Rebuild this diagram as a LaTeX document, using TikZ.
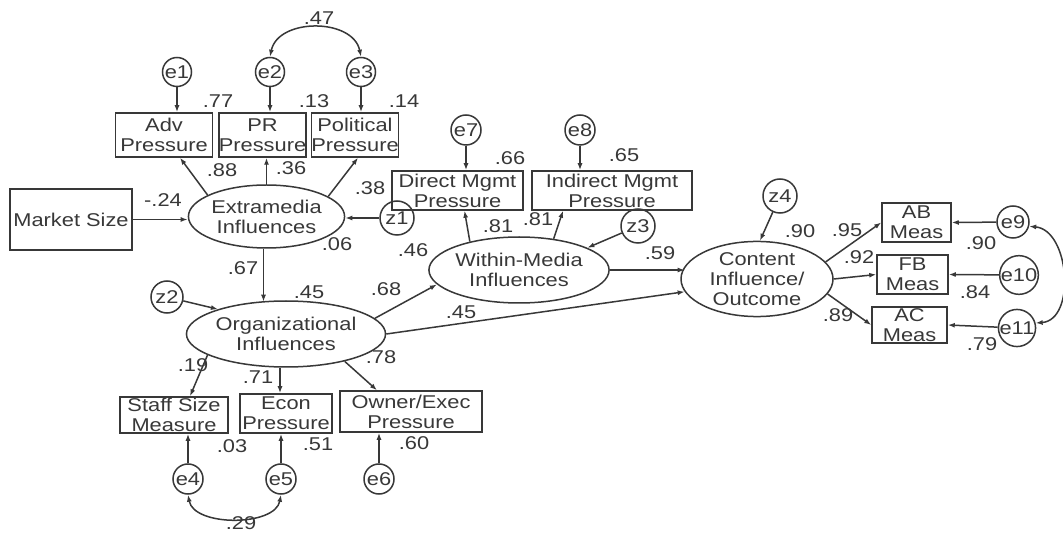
\documentclass[tikz,border=0pt]{standalone}
\usepackage{fontspec}
\setmainfont{Liberation Sans}[FakeStretch=1.18]
\usetikzlibrary{arrows.meta,shapes.geometric,calc}
\definecolor{ink}{HTML}{383838}
\begin{document}
\begin{tikzpicture}[x=1pt,y=-1pt,
  every node/.style={text=ink,font=\fontsize{18.5}{20}\selectfont,inner sep=0pt},
  box/.style={draw=ink,line width=1.5pt,rectangle,align=center},
  lat/.style={draw=ink,line width=1.5pt,ellipse,align=center},
  err/.style={draw=ink,line width=1.5pt,circle},
  lbl/.style={},
  arr/.style={draw=ink,line width=1.5pt,-{Latex[length=7pt,width=5pt]}},
  cov/.style={draw=ink,line width=1.5pt,{Latex[length=7pt,width=5pt]}-{Latex[length=7pt,width=5pt]}}]
\useasboundingbox (0,0) rectangle (1063,534);
\fill[white] (0,0) rectangle (1063,534);
% boxes
\node[box,minimum width=97pt,minimum height=44pt] (adv) at (164,135) {Adv\\Pressure};
\node[box,minimum width=87pt,minimum height=44pt] (pr) at (262.5,135) {PR\\Pressure};
\node[box,minimum width=86pt,minimum height=44pt] (pol) at (355,135) {Political\\Pressure};
\node[box,minimum width=122pt,minimum height=61pt] (market) at (71,219.5) {Market Size};
\node[box,minimum width=131pt,minimum height=39pt] (direct) at (457.5,190.5) {Direct Mgmt\\Pressure};
\node[box,minimum width=160pt,minimum height=39pt] (indirect) at (612,190.5) {Indirect Mgmt\\Pressure};
\node[box,minimum width=108pt,minimum height=36pt] (staff) at (174,415) {Staff Size\\Measure};
\node[box,minimum width=92pt,minimum height=39pt] (econ) at (286,413.5) {Econ\\Pressure};
\node[box,minimum width=142pt,minimum height=41pt] (owner) at (411,411.5) {Owner/Exec\\Pressure};
\node[box,minimum width=69pt,minimum height=39pt] (ab) at (916.5,222.5) {AB\\Meas};
\node[box,minimum width=71pt,minimum height=39pt] (fb) at (912.5,274.5) {FB\\Meas};
\node[box,minimum width=75pt,minimum height=36pt] (ac) at (909.5,325) {AC\\Meas};
% latent ellipses
\node[lat,minimum width=147pt,minimum height=63pt] (extra) at (266.5,216.5) {Extramedia\\Influences};
\node[lat,minimum width=182pt,minimum height=66pt] (org) at (286,334) {Organizational\\Influences};
\node[lat,minimum width=148pt,minimum height=66pt] (within) at (519,270) {Within-Media\\Influences};
\node[lat,minimum width=152pt,minimum height=72pt] (content) at (757,279) {Content\\Influence/\\Outcome};
% error circles
\node[err,minimum size=29pt] (e1) at (177,72) {e1};
\node[err,minimum size=29pt] (e2) at (270,72) {e2};
\node[err,minimum size=29pt] (e3) at (361,72) {e3};
\node[err,minimum size=34pt] (z1) at (397,218) {z1};
\node[err,minimum size=32pt] (z2) at (167,297) {z2};
\node[err,minimum size=30pt] (e4) at (188,479) {e4};
\node[err,minimum size=30pt] (e5) at (281,479) {e5};
\node[err,minimum size=30pt] (e6) at (379,479) {e6};
\node[err,minimum size=30pt] (e7) at (466,130) {e7};
\node[err,minimum size=30pt] (e8) at (580,130) {e8};
\node[err,minimum size=34pt] (z3) at (638,226) {z3};
\node[err,minimum size=34pt] (z4) at (780,196) {z4};
\node[err,minimum size=32pt] (e9) at (1013,222) {e9};
\node[err,minimum size=34pt] (e10) at (1019,275) {e10};
\node[err,minimum size=32pt] (e11) at (1017,328) {e11};
% connectors
\draw[arr] (e1.south) -- (e1.south |- adv.north);
\draw[arr] (e2.south) -- (e2.south |- pr.north);
\draw[arr] (e3.south) -- (e3.south |- pol.north);
\draw[cov] (e2.north) .. controls ($(e2.north)+(8,-39)$) and ($(e3.north)+(-8,-39)$) .. (e3.north);
\draw[arr] (extra.160) -- ($(adv.south)+(16,0)$);
\draw[arr] (extra.north) -- (extra.north |- pr.south);
\draw[arr] (extra.18) -- ($(pol.south)+(3,0)$);
\draw[arr] (market.east) -- (market.east -| extra.west);
\draw[arr] (z1.west) -- (z1.west -| extra.east);
\draw[arr] ($(extra.south)+(-3,0)$) -- ($(org.north)+(-22.5,1.5)$);
\draw[arr] (z2) -- (org.160);
\draw[arr] (org.10) -- (within.190);
\draw[arr] (org.east) -- (content.190);
\draw[arr] (org.195) -- ($(staff.north)+(16,0)$);
\draw[arr] ($(org.south)+(-6,0)$) -- ($(econ.north)+(-6,0)$);
\draw[arr] (org.335) -- ($(owner.north)+(-34,0)$);
\draw[arr] (e4.north) -- (e4.north |- staff.south);
\draw[arr] (e5.north) -- (e5.north |- econ.south);
\draw[arr] (e6.north) -- (e6.north |- owner.south);
\draw[cov] (e4.south) .. controls ($(e4.south)+(6,32)$) and ($(e5.south)+(-6,32)$) .. (e5.south);
\draw[arr] (e7.south) -- (e7.south |- direct.north);
\draw[arr] (e8.south) -- (e8.south |- indirect.north);
\draw[arr] (within.150) -- ($(direct.south)+(7,0)$);
\draw[arr] (within.42) -- ($(indirect.south)+(-49,0)$);
\draw[arr] (z3) -- (within.18);
\draw[arr] (within.east) -- (within.east -| content.170);
\draw[arr] (z4) -- ($(content.north)+(3,0)$);
\draw[arr] (content.14) -- (ab.west);
\draw[arr] (content.east) -- (fb.west);
\draw[arr] (content.348) -- (ac.west);
\draw[arr] (e9) -- (ab.east);
\draw[arr] (e10) -- (fb.east);
\draw[arr] (e11) -- (ac.east);
\draw[cov] (e9.-15) .. controls ($(e9.east)+(40,8)$) and ($(e11.east)+(40,-8)$) .. (e11.15);
% labels
\node[lbl] (l47) at (319,18) {.47};
\node[lbl] (l77) at (218,101) {.77};
\node[lbl] (l13) at (314,101) {.13};
\node[lbl] (l14) at (404,101) {.14};
\node[lbl] (l88) at (222,170) {.88};
\node[lbl] (l36) at (291,168) {.36};
\node[lbl] (l38) at (370,188) {.38};
\node[lbl] (l24) at (163,200) {-.24};
\node[lbl] (l06) at (337,244) {.06};
\node[lbl] (l67) at (243,268) {.67};
\node[lbl] (l45a) at (309,292) {.45};
\node[lbl] (l46) at (413,250) {.46};
\node[lbl] (l68) at (386,289) {.68};
\node[lbl] (l45b) at (461,312) {.45};
\node[lbl] (l19) at (193,365) {.19};
\node[lbl] (l71) at (258,377) {.71};
\node[lbl] (l78) at (381,357) {.78};
\node[lbl] (l03) at (232,446) {.03};
\node[lbl] (l51) at (318,444) {.51};
\node[lbl] (l60) at (414,443) {.60};
\node[lbl] (l29) at (241,523) {.29};
\node[lbl] (l66) at (510,158) {.66};
\node[lbl] (l65) at (624,155) {.65};
\node[lbl] (l81a) at (498,226) {.81};
\node[lbl] (l81b) at (538,219) {.81};
\node[lbl] (l59) at (660,253) {.59};
\node[lbl] (l90a) at (800,231) {.90};
\node[lbl] (l95) at (847,230) {.95};
\node[lbl] (l92) at (859,257) {.92};
\node[lbl] (l89) at (838,315) {.89};
\node[lbl] (l90b) at (981,243) {.90};
\node[lbl] (l84) at (975,292) {.84};
\node[lbl] (l79) at (982,344) {.79};
\end{tikzpicture}
\end{document}
